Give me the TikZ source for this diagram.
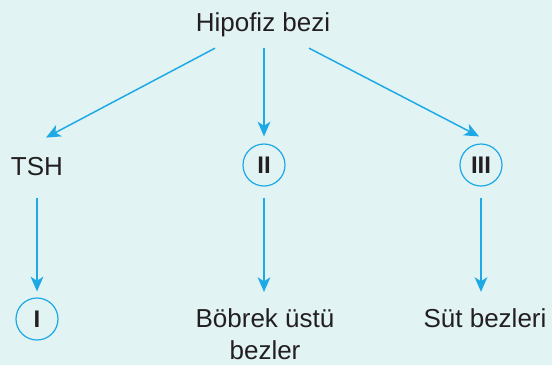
\documentclass[tikz,border=0pt]{standalone}
\usepackage{fontspec}
\setmainfont{Liberation Sans}
\usepackage{tikz}
\usetikzlibrary{arrows.meta}
\usetikzlibrary{calc}
\definecolor{bgcyan}{HTML}{E1F3F3}
\definecolor{arrblue}{HTML}{1DA9E6}
\definecolor{txtgray}{HTML}{231F20}

\begin{document}
\begin{tikzpicture}[x=0.75pt,y=0.75pt,yscale=-1,xscale=1,
  arr/.style={draw=arrblue,line width=1.1pt,-{Stealth[length=11pt,width=9.5pt,inset=3pt]}},
  lbl/.style={text=txtgray,font=\fontsize{19.5}{24}\selectfont,inner sep=0.75pt},
  numc/.style={circle,draw=arrblue,line width=0.9pt,minimum size=31.5pt,inner sep=0pt,text=txtgray,font=\fontsize{18}{22}\selectfont\bfseries}]
%set diagram from (0,0) to (552,365)
\fill[bgcyan] (0,0) rectangle (552,365);
\useasboundingbox (0,0) rectangle (552,365);

% Text Node
\node (hipofiz) at (263,31) [lbl,anchor=base] {Hipofiz bezi};
% Text Node
\node (tsh) at (37,175) [lbl,anchor=base] {TSH};
% Circle Node
\node (two) at (264,165) [numc] {II};
% Circle Node
\node (three) at (481,165) [numc] {III};
% Circle Node
\node (one) at (37,319) [numc] {I};
% Text Node
\node (bobrek) at (265,307) [lbl,anchor=north,align=center] {Böbrek üstü\\bezler};
% Text Node
\node (sut) at (485,327) [lbl,anchor=base] {Süt bezleri};

% Arrows from Hipofiz bezi
\draw [arr] ($(hipofiz.south)+(-48,10.5)$) -- ($(tsh.north)+(9,-18)$);
\draw [arr] ($(hipofiz.south)+(1,10.5)$) -- ($(two.north)+(0,-7)$);
\draw [arr] ($(hipofiz.south)+(46,10.5)$) -- ($(three.north)+(-2,-7)$);
% Arrows to the lower row
\draw [arr] ($(tsh.south)+(0,21)$) -- ($(one.north)+(0,-6)$);
\draw [arr] ($(two.south)+(0,11)$) -- ($(bobrek.north)+(-1,-15)$);
\draw [arr] ($(three.south)+(0,11)$) -- ($(sut.north)+(-4,-15)$);

\end{tikzpicture}
\end{document}
